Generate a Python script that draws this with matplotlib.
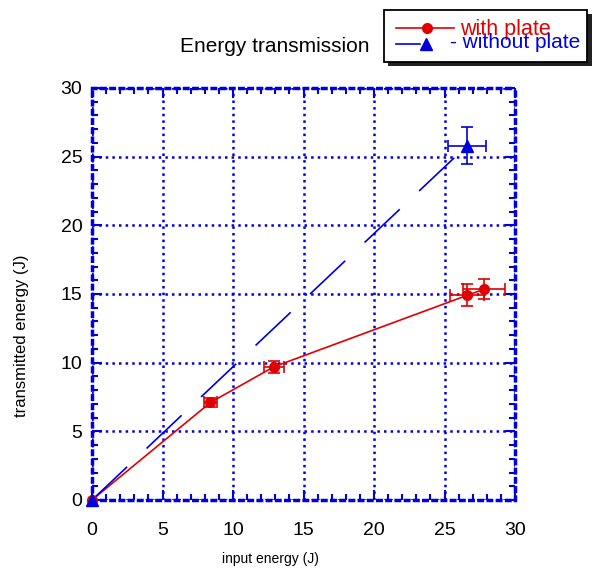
import numpy as np
import matplotlib.pyplot as plt
from matplotlib.lines import Line2D
from matplotlib.patches import Rectangle

plt.rcParams['font.family'] = ['Liberation Sans', 'DejaVu Sans']

# data
plate_x = [0, 8.4, 12.9, 26.6, 27.8]
plate_y = [0, 7.1, 9.7, 14.9, 15.35]
plate_xerr = [0, 0.45, 0.7, 1.2, 1.5]
plate_yerr = [0, 0.3, 0.45, 0.8, 0.75]

noplate_x = [0, 26.6]
noplate_y = [0, 25.8]
noplate_xerr = [0, 1.35]
noplate_yerr = [0, 1.35]

labels = ['with plate', '- without plate']

W, H = 592, 568
fig = plt.figure(figsize=(W / 100, H / 100), dpi=100)
ax = fig.add_axes([92 / W, 1 - 500 / H, 423 / W, 412 / H])

blue = '#0000dd'
red = '#e00000'

# red series - with plate
ax.plot(plate_x, plate_y, color=red, lw=1.2, zorder=3)
ax.errorbar(plate_x[1:], plate_y[1:], xerr=plate_xerr[1:], yerr=plate_yerr[1:],
            fmt='o', color=red, ms=7, capsize=4, elinewidth=1.2, capthick=1.2, zorder=4)
ax.plot(plate_x[0], plate_y[0], 'o', color=red, ms=7, zorder=4, clip_on=False)

# blue series - without plate (long dashes)
ax.plot(noplate_x, noplate_y, color=blue, lw=1.2, dashes=(29, 16), zorder=3)
ax.errorbar(noplate_x[1:], noplate_y[1:], xerr=noplate_xerr[1:], yerr=noplate_yerr[1:],
            fmt='^', color=blue, ms=8, capsize=4, elinewidth=1.2, capthick=1.2, zorder=4)
ax.plot(noplate_x[0], noplate_y[0], '^', color=blue, ms=8, zorder=5, clip_on=False)

ax.set_xlim(0, 30)
ax.set_ylim(0, 30)
ax.set_xticks(np.arange(0, 31, 5))
ax.set_yticks(np.arange(0, 31, 5))
ax.set_xticks(np.arange(0, 31, 1), minor=True)
ax.set_yticks(np.arange(0, 31, 1), minor=True)
ax.tick_params(which='both', direction='in', color=blue, top=True, right=True, width=1.5)
ax.tick_params(which='major', length=7, labelsize=14)
ax.tick_params(axis='x', which='major', pad=16)
ax.tick_params(axis='y', which='major', pad=7)
ax.tick_params(which='minor', length=4)

ax.grid(True, which='major', color=blue, ls=':', lw=1.8)
for s in ax.spines.values():
    s.set_color(blue)
    s.set_linestyle(':')
    s.set_linewidth(2.5)

ax.set_xlabel('input energy (J)', fontsize=10)
ax.xaxis.set_label_coords(0.421, -0.125)
ax.set_ylabel('transmitted energy (J)', fontsize=12)
ax.yaxis.set_label_coords(-0.150, 0.398)

fig.text(275 / W, 1 - 47 / H, 'Energy transmission', fontsize=15, ha='center', va='center')

# legend box with shadow, drawn by hand to match the original layout
def fx(px):
    return px / W

def fy(py):
    return 1 - py / H

fig.add_artist(Rectangle((fx(388), fy(66)), fx(206), 52 / H, transform=fig.transFigure,
                         facecolor='#222222', edgecolor='none', zorder=9))
fig.add_artist(Rectangle((fx(384), fy(62)), fx(203), 52 / H, transform=fig.transFigure,
                         facecolor='white', edgecolor='black', lw=1.3, zorder=10))
fig.add_artist(Line2D([fx(396), fx(454)], [fy(28), fy(28)], color=red, lw=1.2,
                      transform=fig.transFigure, zorder=11))
fig.add_artist(Line2D([fx(427)], [fy(28)], color=red, marker='o', ms=7,
                      transform=fig.transFigure, zorder=11))
fig.add_artist(Line2D([fx(396), fx(420)], [fy(44), fy(44)], color=blue, lw=1.2,
                      transform=fig.transFigure, zorder=11))
fig.add_artist(Line2D([fx(426)], [fy(44)], color=blue, marker='^', ms=8,
                      transform=fig.transFigure, zorder=11))
fig.text(fx(460), fy(29), labels[0], color=red, fontsize=15.5, ha='left', va='center', zorder=12)
fig.text(fx(450), fy(43), labels[1], color=blue, fontsize=15, ha='left', va='center', zorder=12)

fig.savefig('out.png', dpi=100)
